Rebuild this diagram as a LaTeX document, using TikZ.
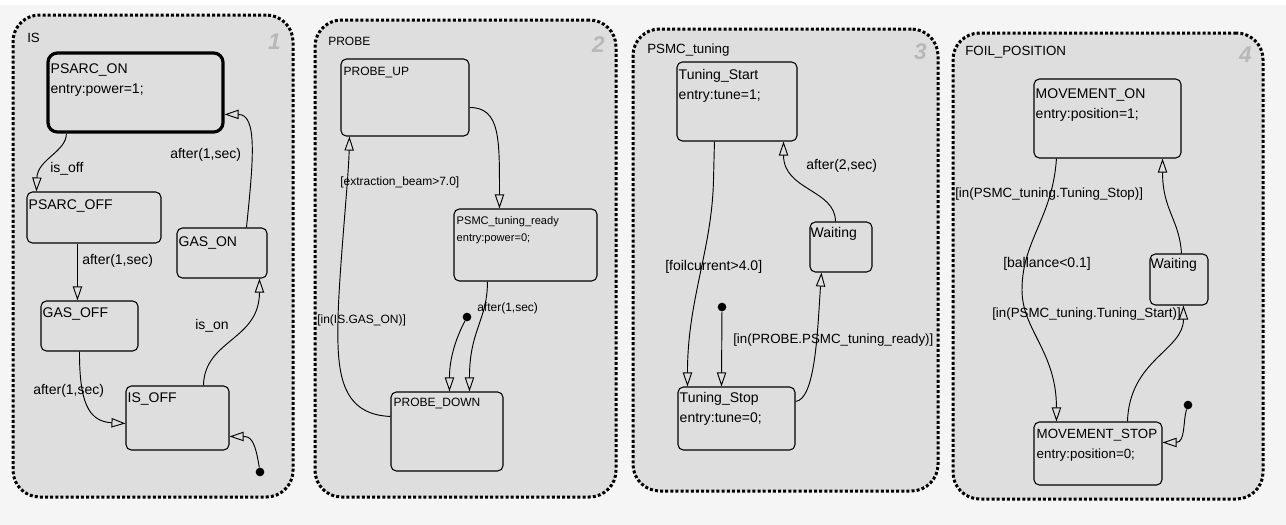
\documentclass[tikz,border=0pt]{standalone}
\usepackage{fontspec}
\setmainfont{Liberation Sans}
\usetikzlibrary{arrows.meta,fit,calc}
\definecolor{bgc}{HTML}{F5F5F5}
\definecolor{pfill}{HTML}{DEDEDE}
\definecolor{numc}{HTML}{B8B8B8}
\tikzset{
 panel/.style={draw=black, fill=pfill, line width=2.25pt, dash pattern=on 2.25pt off 1.6pt, rounded corners=20pt, inner sep=0pt},
 state/.style={draw=black, line width=0.8pt, rounded corners=4pt, inner sep=0pt},
 activestate/.style={line width=2.4pt, rounded corners=7pt},
 stxt/.style={anchor=north west, align=left, inner sep=0pt, font=\fontsize{10.5}{15}\selectfont},
 ptitle/.style={anchor=west, inner sep=0pt, font=\fontsize{10}{12}\selectfont},
 pnum/.style={anchor=east, text=numc, font=\fontsize{17}{17}\selectfont\bfseries\itshape, inner sep=0pt},
 tlbl/.style={anchor=west, inner sep=0pt, font=\fontsize{10.5}{12}\selectfont},
 longlbl/.style={font=\fontsize{10}{12}\selectfont},
 small/.style={font=\fontsize{9}{13}\selectfont},
 tr/.style={draw=black, line width=0.7pt, -{Triangle[open, length=10.5pt, width=7pt]}},
 dflt/.style={circle, fill=black, minimum size=6.5pt, inner sep=0pt},
}
\begin{document}
\begin{tikzpicture}[x=0.75pt,y=-0.75pt]
\useasboundingbox (0,0) rectangle (1286,525);
\fill[bgc] (0,0) rectangle (1286,525);
\fill[white] (0,0) rectangle (1286,5);
% panels
\node[panel, fit={(13,15) (293,497)}] (p1) {};
\node[panel, fit={(315,20) (616,497)}] (p2) {};
\node[panel, fit={(633,29) (938,491)}] (p3) {};
\node[panel, fit={(953,33) (1263,499)}] (p4) {};
\node[ptitle] (p1t) at (27,38) {IS};
\node[ptitle, small] (p2t) at (328,41) {PROBE};
\node[ptitle] (p3t) at (647,50) {PSMC\_tuning};
\node[ptitle] (p4t) at (965,52) {FOIL\_POSITION};
\node[pnum] (p1n) at (281,42) {1};
\node[pnum] (p2n) at (605,45) {2};
\node[pnum] (p3n) at (927,52) {3};
\node[pnum] (p4n) at (1252,55) {4};
% panel 1 states
\node[state, activestate, fit={(48,53) (223,132)}] (psarcon) {};
\node[state, fit={(27,192) (161,243)}] (psarcoff) {};
\node[state, fit={(177,228) (267,278)}] (gason) {};
\node[state, fit={(41,301) (138,351)}] (gasoff) {};
\node[state, fit={(126,386) (229,450)}] (isoff) {};
\node[dflt] (dot1) at (260,472) {};
\node[stxt] (psarcon-t) at ($(psarcon.north west)+(4,12)$) {PSARC\_ON\\entry:power=1;};
\node[stxt] (psarcoff-t) at ($(psarcoff.north west)+(2,8)$) {PSARC\_OFF};
\node[stxt] (gason-t) at ($(gason.north west)+(2,9)$) {GAS\_ON};
\node[stxt] (gasoff-t) at ($(gasoff.north west)+(2,7)$) {GAS\_OFF};
\node[stxt] (isoff-t) at ($(isoff.north west)+(2,7)$) {IS\_OFF};
\draw[tr] ($(psarcon.south west)+(20,0)$) .. controls +(0,18) and +(1,-32) .. ($(psarcoff.north west)+(10,0)$);
\draw[tr] ($(psarcoff.south west)+(51,0)$) -- ($(gasoff.north west)+(37,0)$);
\draw[tr] ($(gasoff.south west)+(39,0)$) .. controls +(0,49) and +(-38,-2) .. ($(isoff.north west)+(0,38)$);
\draw[tr] ($(isoff.north west)+(78,0)$) .. controls +(1,-46) and +(0,62) .. ($(gason.south west)+(83,0)$);
\draw[tr] ($(gason.north west)+(70,0)$) .. controls +(7,-68) and +(33,0) .. ($(psarcon.north east)+(0,63)$);
\draw[tr] (dot1) .. controls +(-5,-32) and +(21,0) .. ($(isoff.north east)+(0,51)$);
\node[tlbl] (l1) at (50,169) {is\_off};
\node[tlbl] (l2) at (82,261) {after(1,sec)};
\node[tlbl] (l3) at (33,391) {after(1,sec)};
\node[tlbl] (l4) at (195,326) {is\_on};
\node[tlbl] (l5) at (170,155) {after(1,sec)};
% panel 2 states
\node[state, fit={(341,59) (469,136)}] (probeup) {};
\node[state, fit={(454,209) (597,281)}] (psmcready) {};
\node[state, fit={(391,392) (503,471)}] (probedown) {};
\node[dflt] (dot2) at (467,317) {};
\node[stxt, small] (probeup-t) at ($(probeup.north west)+(3,8)$) {PROBE\_UP};
\node[stxt, font=\fontsize{8.3}{12.5}\selectfont] (psmcready-t) at ($(psmcready.north west)+(3,8)$) {PSMC\_tuning\_ready\\entry:power=0;};
\node[stxt, small] (probedown-t) at ($(probedown.north west)+(3,6)$) {PROBE\_DOWN};
\draw[tr] ($(probeup.north east)+(0,49)$) .. controls +(31,0) and +(0,-69) .. ($(psmcready.north west)+(46,0)$);
\draw[tr] ($(psmcready.south west)+(34,0)$) .. controls +(0,39) and +(0,-62) .. ($(probedown.north west)+(79,0)$);
\draw[tr] (dot2) .. controls +(-12,23) and +(0,-32) .. ($(probedown.north west)+(59,0)$);
\draw[tr] ($(probedown.north west)+(0,25)$) .. controls +(-51,-2) and (337,370) .. (338,320) .. controls (339,270) and +(-1,45) .. ($(probeup.south west)+(9,0)$);
\node[tlbl, small] (l6) at (477,308) {after(1,sec)};
\node[tlbl, small] (l7) at (317,320) {[in(IS.GAS\_ON)]};
\node[tlbl, small] (l8) at (340,182) {[extraction\_beam>7.0]};
% panel 3 states
\node[state, fit={(677,62) (797,141)}] (tstart) {};
\node[state, fit={(810,222) (872,272)}] (waiting3) {};
\node[state, fit={(678,387) (795,450)}] (tstop) {};
\node[dflt] (dot3) at (722,307) {};
\node[stxt] (tstart-t) at ($(tstart.north west)+(2,8)$) {Tuning\_Start\\entry:tune=1;};
\node[stxt] (waiting3-t) at ($(waiting3.north west)+(1,6)$) {Waiting};
\node[stxt] (tstop-t) at ($(tstop.north west)+(2,6)$) {Tuning\_Stop\\entry:tune=0;};
\draw[tr] ($(tstart.south west)+(38,0)$) -- ++(-1,40) .. controls +(-2,70) and +(0,-87) .. ($(tstop.north west)+(10,0)$);
\draw[tr] (dot3) -- ($(tstop.north west)+(44,0)$);
\draw[tr] ($(tstop.north east)+(0,15)$) .. controls +(20,-2) and +(-4,58) .. ($(waiting3.south west)+(12,0)$);
\draw[tr] ($(waiting3.north west)+(26,0)$) .. controls +(0,-32) and +(0,49) .. ($(tstart.south east)+(-14,0)$);
\node[tlbl] (l9) at (665,267) {[foilcurrent>4.0]};
\node[tlbl, longlbl] (l10) at (733,340) {[in(PROBE.PSMC\_tuning\_ready)]};
\node[tlbl] (l11) at (806,166) {after(2,sec)};
% panel 4 states
\node[state, fit={(1034,79) (1181,158)}] (movon) {};
\node[state, fit={(1150,254) (1208,305)}] (waiting4) {};
\node[state, fit={(1034,422) (1162,485)}] (movstop) {};
\node[dflt] (dot4) at (1188,405) {};
\node[stxt] (movon-t) at ($(movon.north west)+(2,10)$) {MOVEMENT\_ON\\entry:position=1;};
\node[stxt] (waiting4-t) at ($(waiting4.north west)+(1,5)$) {Waiting};
\node[stxt, font=\fontsize{10}{15}\selectfont] (movstop-t) at ($(movstop.north west)+(3,7)$) {MOVEMENT\_STOP\\entry:position=0;};
\draw[tr] ($(movon.south west)+(23,0)$) .. controls +(-4,60) and (1022,240) .. (1022,290) .. controls (1022,330) and +(0,-70) .. ($(movstop.north west)+(23,0)$);
\draw[tr] ($(movstop.north west)+(94,0)$) .. controls +(2,-62) and +(0,45) .. ($(waiting4.south west)+(34,0)$);
\draw[tr] ($(waiting4.north west)+(32,0)$) .. controls +(-2,-34) and +(0,52) .. ($(movon.south east)+(-19,0)$);
\draw[tr] (dot4) .. controls +(-5,15) and +(23,0) .. ($(movstop.north east)+(0,21)$);
\node[tlbl, longlbl] (l12) at (955,194) {[in(PSMC\_tuning.Tuning\_Stop)]};
\node[tlbl] (l13) at (1003,264) {[ballance<0.1]};
\node[tlbl, longlbl] (l14) at (992,314) {[in(PSMC\_tuning.Tuning\_Start)]};
\end{tikzpicture}
\end{document}
